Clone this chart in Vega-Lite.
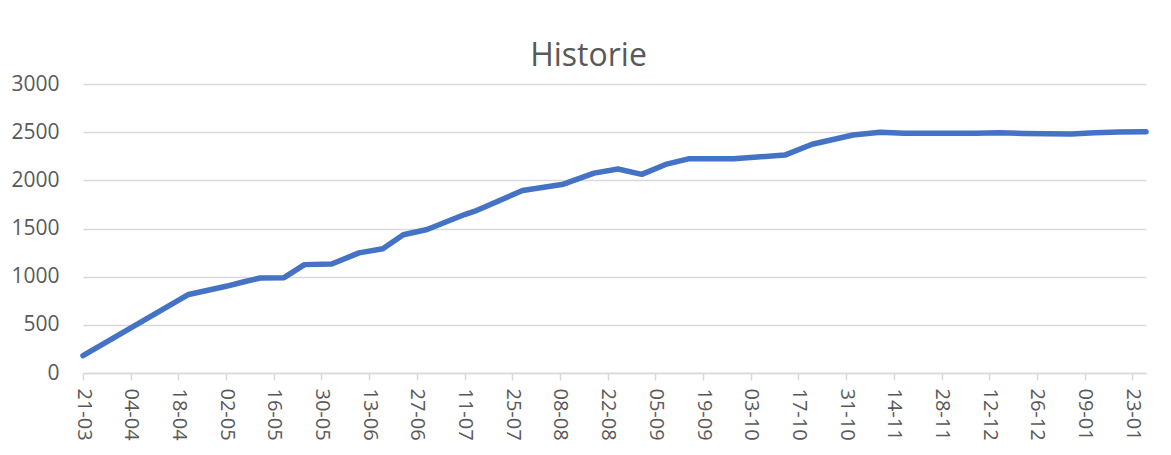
{
  "$schema": "https://vega.github.io/schema/vega-lite/v6.json",
  "autosize": {"type": "none"},
  "width": 1063,
  "height": 289,
  "padding": {"left": 83, "top": 84, "right": 25, "bottom": 82},
  "background": "white",
  "title": {
    "text": "Historie",
    "fontSize": 32,
    "font": "Open Sans",
    "fontWeight": "normal",
    "color": "#595959",
    "offset": 0,
    "dx": -26
  },
  "config": {
    "view": {"stroke": null},
    "font": "Open Sans"
  },
  "data": {
    "values": [
      {"date": "2020-03-21", "value": 180},
      {"date": "2020-04-21", "value": 815},
      {"date": "2020-05-02", "value": 900},
      {"date": "2020-05-07", "value": 945},
      {"date": "2020-05-12", "value": 986},
      {"date": "2020-05-19", "value": 990},
      {"date": "2020-05-25", "value": 1125},
      {"date": "2020-06-02", "value": 1132},
      {"date": "2020-06-10", "value": 1247},
      {"date": "2020-06-17", "value": 1289},
      {"date": "2020-06-23", "value": 1435},
      {"date": "2020-06-30", "value": 1490},
      {"date": "2020-07-11", "value": 1645},
      {"date": "2020-07-14", "value": 1680},
      {"date": "2020-07-28", "value": 1895},
      {"date": "2020-08-09", "value": 1960},
      {"date": "2020-08-18", "value": 2075},
      {"date": "2020-08-25", "value": 2118},
      {"date": "2020-09-01", "value": 2062},
      {"date": "2020-09-08", "value": 2165},
      {"date": "2020-09-15", "value": 2225},
      {"date": "2020-09-28", "value": 2225},
      {"date": "2020-10-13", "value": 2262},
      {"date": "2020-10-21", "value": 2375},
      {"date": "2020-11-02", "value": 2470},
      {"date": "2020-11-10", "value": 2500},
      {"date": "2020-11-17", "value": 2490},
      {"date": "2020-11-24", "value": 2488},
      {"date": "2020-12-01", "value": 2488},
      {"date": "2020-12-08", "value": 2490},
      {"date": "2020-12-15", "value": 2493},
      {"date": "2020-12-22", "value": 2487},
      {"date": "2020-12-29", "value": 2483},
      {"date": "2021-01-05", "value": 2482},
      {"date": "2021-01-12", "value": 2493},
      {"date": "2021-01-19", "value": 2503},
      {"date": "2021-01-27", "value": 2505}
    ]
  },
  "mark": {
    "type": "line",
    "color": "#4472C4",
    "strokeWidth": 5.5,
    "strokeCap": "round",
    "strokeJoin": "round"
  },
  "encoding": {
    "x": {
      "field": "date",
      "type": "temporal",
      "scale": {
        "type": "utc",
        "domain": [
          {"year": 2020, "month": 3, "date": 21, "utc": true},
          {"year": 2021, "month": 1, "date": 27, "utc": true}
        ]
      },
      "axis": {
        "title": null,
        "format": "%d-%m",
        "values": [
          {"year": 2020, "month": 3, "date": 21, "utc": true},
          {"year": 2020, "month": 4, "date": 4, "utc": true},
          {"year": 2020, "month": 4, "date": 18, "utc": true},
          {"year": 2020, "month": 5, "date": 2, "utc": true},
          {"year": 2020, "month": 5, "date": 16, "utc": true},
          {"year": 2020, "month": 5, "date": 30, "utc": true},
          {"year": 2020, "month": 6, "date": 13, "utc": true},
          {"year": 2020, "month": 6, "date": 27, "utc": true},
          {"year": 2020, "month": 7, "date": 11, "utc": true},
          {"year": 2020, "month": 7, "date": 25, "utc": true},
          {"year": 2020, "month": 8, "date": 8, "utc": true},
          {"year": 2020, "month": 8, "date": 22, "utc": true},
          {"year": 2020, "month": 9, "date": 5, "utc": true},
          {"year": 2020, "month": 9, "date": 19, "utc": true},
          {"year": 2020, "month": 10, "date": 3, "utc": true},
          {"year": 2020, "month": 10, "date": 17, "utc": true},
          {"year": 2020, "month": 10, "date": 31, "utc": true},
          {"year": 2020, "month": 11, "date": 14, "utc": true},
          {"year": 2020, "month": 11, "date": 28, "utc": true},
          {"year": 2020, "month": 12, "date": 12, "utc": true},
          {"year": 2020, "month": 12, "date": 26, "utc": true},
          {"year": 2021, "month": 1, "date": 9, "utc": true},
          {"year": 2021, "month": 1, "date": 23, "utc": true}
        ],
        "labelAngle": 90,
        "labelFontSize": 20,
        "labelColor": "#595959",
        "labelPadding": 8,
        "labelFlush": false,
        "labelOverlap": false,
        "grid": false,
        "domainColor": "#D9D9D9",
        "domainWidth": 1.5,
        "tickColor": "#D9D9D9",
        "tickWidth": 1.5,
        "tickSize": 7
      }
    },
    "y": {
      "field": "value",
      "type": "quantitative",
      "scale": {"domain": [0, 3000], "nice": false},
      "axis": {
        "title": null,
        "format": "d",
        "values": [0, 500, 1000, 1500, 2000, 2500, 3000],
        "labelFontSize": 21,
        "labelColor": "#595959",
        "labelPadding": 24,
        "ticks": false,
        "domain": false,
        "gridColor": "#D9D9D9",
        "gridWidth": 1.5
      }
    }
  }
}
